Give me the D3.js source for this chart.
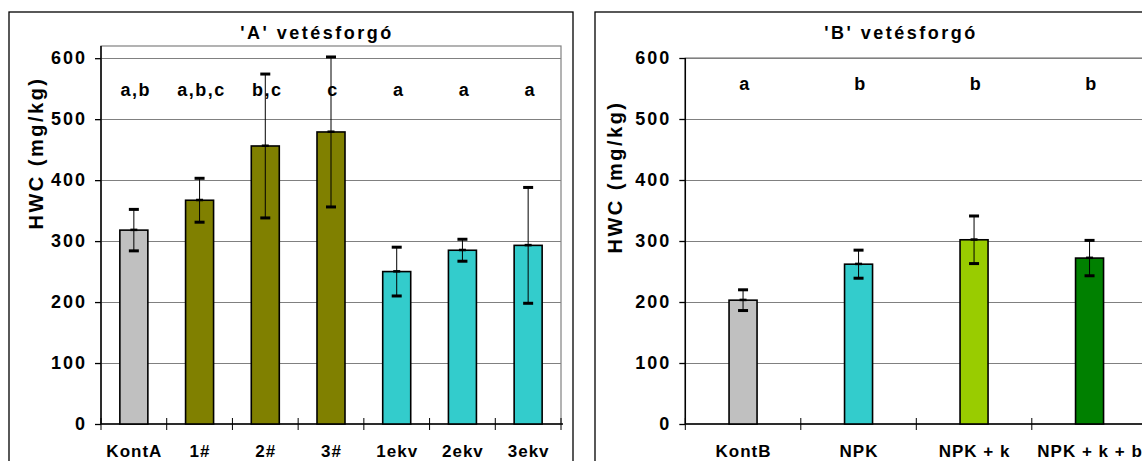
<!DOCTYPE html>
<html>
<head>
<meta charset="utf-8">
<script src="https://cdn.jsdelivr.net/npm/d3@7"></script>
<style>
  html, body { margin: 0; padding: 0; background: #fff; }
  svg { display: block; font-family: "Liberation Sans", Arial, sans-serif; font-weight: bold; }
</style>
</head>
<body>
<svg id="chart" width="1142" height="461"></svg>
<script>
// HWC values (mg/kg) for the two crop rotations
const categoriesA = ["KontA", "1#", "2#", "3#", "1ekv", "2ekv", "3ekv"];
const valuesA = [318, 367, 456, 479, 250, 285, 293];
const errorsA = [34, 36, 118, 123, 40, 18, 95];
const lettersA = ["a,b", "a,b,c", "b,c", "c", "a", "a", "a"];
const colorsA = ["#C0C0C0", "#808000", "#808000", "#808000", "#33CCCC", "#33CCCC", "#33CCCC"];

const categoriesB = ["KontB", "NPK", "NPK + k", "NPK + k + b"];
const valuesB = [203, 262, 302, 272];
const errorsB = [17, 23, 39, 29];
const lettersB = ["a", "b", "b", "b"];
const colorsB = ["#C0C0C0", "#33CCCC", "#99CC00", "#008000"];

const yTicks = [0, 100, 200, 300, 400, 500, 600];
const yTitle = "HWC (mg/kg)";

const svg = d3.select("#chart");

function drawPanel(p) {
  const g = svg.append("g");

  // outer chart frame
  g.append("rect")
    .attr("x", p.frame[0]).attr("y", p.frame[1])
    .attr("width", p.frame[2]).attr("height", p.frame[3])
    .attr("fill", "#fff").attr("stroke", "#000").attr("stroke-width", 1.3);

  const x = d3.scaleBand().domain(p.cats).range([p.left, p.right]).padding(0);
  const y = d3.scaleLinear().domain([0, p.yMax]).range([p.bottom, p.top]);

  // plot area border
  g.append("rect")
    .attr("x", p.left).attr("y", p.top)
    .attr("width", p.right - p.left).attr("height", p.bottom - p.top)
    .attr("fill", "none").attr("stroke", "#808080").attr("stroke-width", 1.2);

  // horizontal gridlines
  g.append("g").selectAll("line").data(yTicks.filter(d => d > 0)).join("line")
    .attr("x1", p.left).attr("x2", p.right)
    .attr("y1", d => Math.round(y(d)) + 0.5).attr("y2", d => Math.round(y(d)) + 0.5)
    .attr("stroke", "#808080").attr("stroke-width", 1);

  // y axis
  const yAxis = d3.axisLeft(y).tickValues(yTicks).tickSize(6).tickPadding(10).tickFormat(d3.format("d"));
  const ya = g.append("g").attr("transform", `translate(${p.left},0)`).call(yAxis);
  ya.select(".domain").attr("stroke", "#000").attr("stroke-width", 1.5)
    .attr("d", `M0,${p.top}V${p.bottom}`);
  ya.selectAll(".tick line").attr("stroke", "#000").attr("stroke-width", 1.3);
  ya.selectAll(".tick text")
    .attr("font-size", 18).attr("font-weight", "bold").attr("font-family", "Liberation Sans, Arial, sans-serif")
    .attr("fill", "#000").attr("letter-spacing", 2).attr("dx", 2);

  // x axis with ticks on category boundaries
  const xa = g.append("g");
  xa.append("line")
    .attr("x1", p.left).attr("x2", p.right + 2)
    .attr("y1", p.bottom).attr("y2", p.bottom)
    .attr("stroke", "#000").attr("stroke-width", 1.5);
  const bounds = p.cats.map(c => x(c)).concat([x(p.cats[p.cats.length - 1]) + x.bandwidth()]);
  xa.selectAll("line.b").data(bounds).join("line").attr("class", "b")
    .attr("x1", d => d).attr("x2", d => d)
    .attr("y1", p.bottom - 6).attr("y2", p.bottom + 6)
    .attr("stroke", "#000").attr("stroke-width", 1);
  xa.selectAll("text").data(p.cats).join("text")
    .attr("x", d => x(d) + x.bandwidth() / 2 + 0.5)
    .attr("y", 457)
    .attr("text-anchor", "middle")
    .attr("font-size", 17).attr("letter-spacing", 1)
    .text(d => d);

  const cx = d => x(d) + x.bandwidth() / 2;
  const barW = 28;

  // bars
  g.append("g").selectAll("rect").data(p.cats).join("rect")
    .attr("x", d => cx(d) - barW / 2)
    .attr("y", (d, i) => y(p.vals[i]))
    .attr("width", barW)
    .attr("height", (d, i) => y(0) - y(p.vals[i]))
    .attr("fill", (d, i) => p.colors[i])
    .attr("stroke", "#000").attr("stroke-width", 1.6);

  // error bars
  const eb = g.append("g").selectAll("g").data(p.cats).join("g");
  eb.append("line")
    .attr("x1", d => cx(d)).attr("x2", d => cx(d))
    .attr("y1", (d, i) => y(p.vals[i] - p.errs[i]))
    .attr("y2", (d, i) => y(p.vals[i] + p.errs[i]))
    .attr("stroke", "#000").attr("stroke-width", 1);
  [-1, 1].forEach(s => {
    eb.append("rect")
      .attr("x", d => cx(d) - 5)
      .attr("y", (d, i) => y(p.vals[i] + s * p.errs[i]) - 1.5)
      .attr("width", 10).attr("height", 3)
      .attr("fill", "#000");
  });
  eb.append("rect")
    .attr("x", d => cx(d) - 3.5)
    .attr("y", (d, i) => y(p.vals[i]) - 1.5)
    .attr("width", 7).attr("height", 2.5)
    .attr("fill", "#000");

  // significance letters
  g.append("g").selectAll("text").data(p.cats).join("text")
    .attr("x", d => cx(d) + 2)
    .attr("y", p.letterY)
    .attr("text-anchor", "middle")
    .attr("font-size", 18).attr("letter-spacing", 1.5)
    .text((d, i) => p.letters[i]);

  // title
  g.append("text")
    .attr("x", p.titleX).attr("y", 39)
    .attr("text-anchor", "middle")
    .attr("font-size", 18).attr("letter-spacing", 2.5)
    .text(p.title);

  // y axis title
  g.append("text")
    .attr("transform", `translate(${p.yTitlePos[0]},${p.yTitlePos[1]}) rotate(-90)`)
    .attr("text-anchor", "middle")
    .attr("font-size", 20).attr("letter-spacing", 2.5)
    .text(yTitle);
}

drawPanel({
  frame: [9, 12, 564, 480],
  left: 101, right: 561, top: 46, bottom: 424, yMax: 620,
  cats: categoriesA, vals: valuesA, errs: errorsA, letters: lettersA, colors: colorsA,
  letterY: 95.5, title: "'A' vetésforgó", titleX: 317, yTitlePos: [43, 153]
});

drawPanel({
  frame: [595, 12, 620, 480],
  left: 685.3, right: 1147.3, top: 58, bottom: 424, yMax: 600,
  cats: categoriesB, vals: valuesB, errs: errorsB, letters: lettersB, colors: colorsB,
  letterY: 89.5, title: "'B' vetésforgó", titleX: 901, yTitlePos: [622, 177]
});
</script>
</body>
</html>
